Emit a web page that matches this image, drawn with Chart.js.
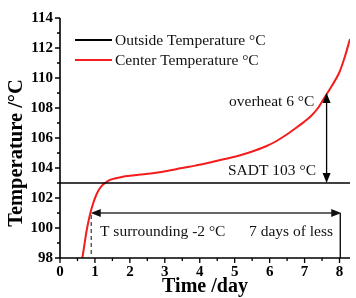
<!DOCTYPE html>
<html>
<head>
<meta charset="utf-8">
<script src="https://cdn.jsdelivr.net/npm/chart.js@4/dist/chart.umd.min.js"></script>
<style>
html,body{margin:0;padding:0;background:#fff;}
#wrap{width:356px;height:298px;}
</style>
</head>
<body>
<div id="wrap"><canvas id="c" width="356" height="298"></canvas></div>
<script>
// ---- data ----
const centerDays  = [0.64,0.70,0.76,0.82,0.88,0.95,1.02,1.10,1.20,1.30,1.45,1.60,1.80,2.00,2.30,2.60,2.90,3.20,3.45,3.70,3.95,4.20,4.50,4.75,5.00,5.30,5.60,5.90,6.20,6.50,6.80,7.00,7.20,7.40,7.60,7.80,8.00,8.15,8.30];
const centerTemps = [98.0,98.9,99.8,100.5,101.1,101.65,102.1,102.5,102.82,103.02,103.22,103.32,103.42,103.48,103.56,103.64,103.74,103.86,103.98,104.08,104.2,104.32,104.48,104.62,104.75,104.95,105.18,105.45,105.8,106.25,106.75,107.1,107.5,108.05,108.8,109.55,110.4,111.4,112.6];
const outsideDays  = [0, 8.3];
const outsideTemps = [103, 103];
const seriesNames = ['Outside Temperature \u00B0C', 'Center Temperature \u00B0C'];
const xTickValues = [0,1,2,3,4,5,6,7,8];
const yTickValues = [98,100,102,104,106,108,110,112,114];
const yTitle = 'Temperature /\u00B0C';
const xTitle = 'Time /day';
// annotations (data units)
const overheatX = 7.63, overheatFrom = 103, overheatTo = 109;
const surroundY = 101, surroundFrom = 0.88, surroundTo = 8.05;
const labelOverheat = 'overheat 6 \u00B0C';
const labelSADT = 'SADT 103 \u00B0C';
const labelSurround = 'T surrounding -2 \u00B0C';
const labelDays = '7 days of less';

const SERIF = '"Liberation Serif", "Times New Roman", serif';

function arrowHead(ctx, x, y, dir) {
  const L = 10, W = 4;
  ctx.beginPath();
  if (dir === 'up') { ctx.moveTo(x, y); ctx.lineTo(x - W, y + L); ctx.lineTo(x + W, y + L); }
  if (dir === 'down') { ctx.moveTo(x, y); ctx.lineTo(x - W, y - L); ctx.lineTo(x + W, y - L); }
  if (dir === 'left') { ctx.moveTo(x, y); ctx.lineTo(x + L, y - W); ctx.lineTo(x + L, y + W); }
  if (dir === 'right') { ctx.moveTo(x, y); ctx.lineTo(x - L, y - W); ctx.lineTo(x - L, y + W); }
  ctx.closePath();
  ctx.fill();
}

const deco = {
  id: 'deco',
  afterDatasetsDraw(chart) {
    const ctx = chart.ctx;
    const xs = chart.scales.x, ys = chart.scales.y;
    const a = chart.chartArea;
    ctx.save();
    ctx.strokeStyle = '#000';
    ctx.fillStyle = '#000';
    // axes
    ctx.lineWidth = 1.6;
    ctx.beginPath();
    ctx.moveTo(a.left, a.top); ctx.lineTo(a.left, a.bottom); ctx.lineTo(a.right, a.bottom);
    ctx.stroke();
    // ticks
    ctx.lineWidth = 1.3;
    ctx.beginPath();
    for (let v = ys.min; v <= ys.max + 1e-6; v += 1) {
      const y = ys.getPixelForValue(v);
      const len = (Math.round(v) % 2 === 0) ? 5 : 3;
      ctx.moveTo(a.left, y); ctx.lineTo(a.left - len, y);
    }
    for (let v = 0; v <= xs.max + 1e-6; v += 0.5) {
      const x = xs.getPixelForValue(v);
      const len = (Math.abs(v - Math.round(v)) < 1e-6) ? 5 : 3;
      ctx.moveTo(x, a.bottom); ctx.lineTo(x, a.bottom + len);
    }
    ctx.stroke();

    // y title
    ctx.save();
    ctx.translate(17, 153);
    ctx.rotate(-Math.PI / 2);
    ctx.font = 'bold 20.5px ' + SERIF;
    ctx.textAlign = 'center';
    ctx.textBaseline = 'middle';
    ctx.fillText(yTitle, 0, 0);
    ctx.restore();

    // overheat double arrow
    const ox = xs.getPixelForValue(overheatX);
    const oyTop = ys.getPixelForValue(overheatTo);
    const oyBot = ys.getPixelForValue(overheatFrom);
    ctx.lineWidth = 1.3;
    ctx.beginPath(); ctx.moveTo(ox, oyTop + 6); ctx.lineTo(ox, oyBot - 6); ctx.stroke();
    arrowHead(ctx, ox, oyTop, 'up');
    arrowHead(ctx, ox, oyBot, 'down');

    // surrounding arrow
    const sy = ys.getPixelForValue(surroundY);
    const sx1 = xs.getPixelForValue(surroundFrom);
    const sx2 = xs.getPixelForValue(surroundTo);
    ctx.strokeStyle = '#333'; ctx.fillStyle = '#111';
    ctx.beginPath(); ctx.moveTo(sx1 + 6, sy); ctx.lineTo(sx2 - 6, sy); ctx.stroke();
    arrowHead(ctx, sx1, sy, 'left');
    arrowHead(ctx, sx2, sy, 'right');
    ctx.strokeStyle = '#000';
    ctx.beginPath(); ctx.moveTo(sx2 - 1, sy); ctx.lineTo(sx2 - 1, a.bottom); ctx.stroke();
    // dashed
    ctx.setLineDash([4, 3]);
    ctx.strokeStyle = '#444';
    ctx.beginPath(); ctx.moveTo(sx1 + 0.5, sy + 2); ctx.lineTo(sx1 + 0.5, a.bottom); ctx.stroke();
    ctx.setLineDash([]);

    // texts
    ctx.fillStyle = '#111';
    ctx.font = '15.5px ' + SERIF;
    ctx.textBaseline = 'alphabetic';
    ctx.textAlign = 'left';
    ctx.fillText(labelOverheat, 229, 106);
    ctx.fillText(labelSADT, 228, 175);
    ctx.fillText(labelSurround, 100, 236);
    ctx.fillText(labelDays, 249, 236);

    // legend
    ctx.lineWidth = 2;
    ctx.strokeStyle = '#000';
    ctx.beginPath(); ctx.moveTo(75, 40); ctx.lineTo(112, 40); ctx.stroke();
    ctx.strokeStyle = '#f41c1c';
    ctx.beginPath(); ctx.moveTo(75, 60); ctx.lineTo(112, 60); ctx.stroke();
    ctx.textBaseline = 'middle';
    ctx.fillText(seriesNames[0], 115, 41);
    ctx.fillText(seriesNames[1], 115, 61);
    ctx.restore();
  }
};

new Chart(document.getElementById('c'), {
  type: 'scatter',
  data: {
    datasets: [
      {
        label: seriesNames[0],
        data: outsideDays.map((d, i) => ({x: d, y: outsideTemps[i]})),
        showLine: true, borderColor: '#000', borderWidth: 1.6, pointRadius: 0
      },
      {
        label: seriesNames[1],
        data: centerDays.map((d, i) => ({x: d, y: centerTemps[i]})),
        showLine: true, borderColor: '#f41c1c', borderWidth: 2, pointRadius: 0,
        cubicInterpolationMode: 'monotone'
      }
    ]
  },
  options: {
    responsive: false,
    animation: false,
    devicePixelRatio: 1,
    layout: { padding: { top: 18, right: 6, left: 0, bottom: 0 } },
    plugins: { legend: { display: false }, tooltip: { enabled: false } },
    scales: {
      x: {
        type: 'linear', min: 0, max: 8.3,
        afterFit(s) { s.height = 40; },
        afterBuildTicks(s) { s.ticks = xTickValues.map(v => ({value: v})); },
        grid: { display: false, drawTicks: false },
        border: { display: false },
        ticks: { color: '#000', padding: 5, maxRotation: 0, autoSkip: false,
          font: { family: SERIF, size: 15, weight: 'bold' } },
        title: { display: true, text: xTitle, color: '#000',
          font: { family: SERIF, size: 20, weight: 'bold', lineHeight: 1 }, padding: { top: 0, bottom: 1 } }
      },
      y: {
        type: 'linear', min: 98, max: 114,
        afterFit(s) { s.width = 60; },
        afterBuildTicks(s) { s.ticks = yTickValues.map(v => ({value: v})); },
        grid: { display: false, drawTicks: false },
        border: { display: false },
        ticks: { color: '#000', padding: 7, autoSkip: false,
          font: { family: SERIF, size: 15, weight: 'bold' } },
        title: { display: false }
      }
    }
  },
  plugins: [deco]
});
</script>
</body>
</html>
